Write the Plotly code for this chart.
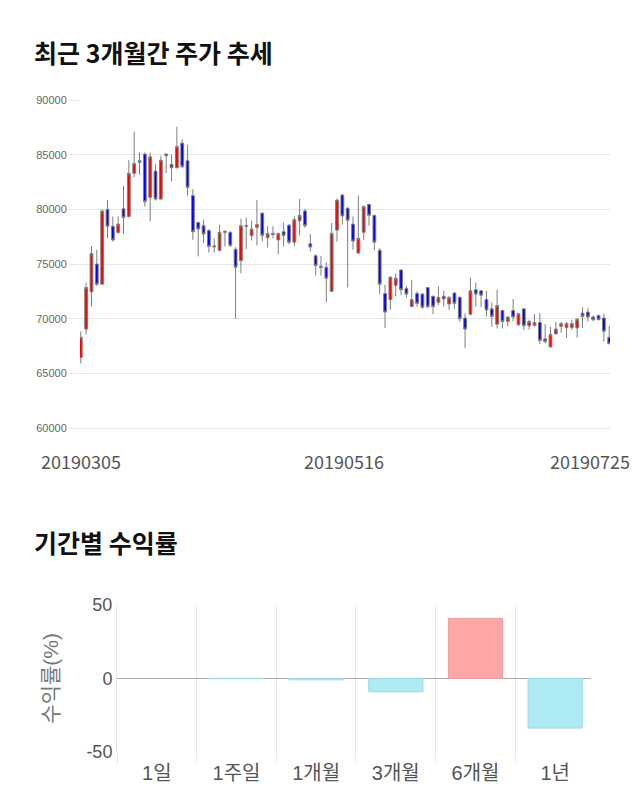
import plotly.graph_objects as go

# ---------------- data ----------------
opens = [66450, 69050, 72450, 75000, 73150, 80000, 78450, 77900, 80050, 79350,
         83300, 84450, 85050, 81100, 83500, 80950, 85050, 84100, 83800, 86050,
         84450, 81250, 78800, 78500, 78050, 76550, 76250, 78000, 77900, 76350,
         75300, 78500, 77600, 78350, 79650, 77400, 77800, 77200, 77950, 78550,
         77000, 78950, 79850, 76850, 75750, 74800, 74700, 72500, 78100, 81300,
         80100, 78650, 76000, 77900, 80450, 79450, 76250, 72300, 71750, 73050,
         74450, 72750, 71100, 72300, 72250, 72850, 72050, 71500, 72050, 71350,
         72350, 71950, 70050, 70400, 72650, 72550, 71750, 70900, 69500, 70750,
         69750, 70750, 69450, 70900, 69350, 69400, 69650, 68150, 67400, 68600,
         69300, 69200, 69200, 69150, 70500, 70600, 70150, 70300, 70050, 68300]
highs = [68850, 73300, 76650, 76300, 80000, 80850, 79350, 79350, 82150, 84500,
         87100, 85200, 85200, 85200, 84150, 84900, 85150, 85000, 87550, 86400,
         85900, 81850, 78850, 79050, 78200, 77350, 78600, 78050, 78000, 76550,
         79150, 79250, 78950, 80850, 79700, 78450, 78450, 77850, 78800, 78650,
         79350, 80950, 80050, 77750, 75900, 75750, 75150, 78750, 81000, 81400,
         80200, 79350, 81250, 80350, 80500, 79450, 76450, 73100, 73850, 74150,
         74500, 73000, 73550, 72500, 72300, 72900, 72100, 72950, 72550, 72050,
         72400, 72050, 70500, 73750, 73300, 72600, 72550, 71450, 72650, 70800,
         70200, 71800, 70450, 70900, 69900, 70450, 70500, 69500, 69250, 69700,
         69700, 69700, 69900, 70000, 71050, 70950, 70300, 70350, 70450, 69350]
lows = [65900, 68550, 71100, 73000, 73150, 77350, 77050, 77750, 77750, 79250,
        82950, 83150, 80250, 78900, 80800, 80850, 83300, 82550, 83800, 83800,
        81250, 77200, 75700, 76900, 76050, 76050, 76150, 76600, 76550, 70000,
        74150, 76350, 77150, 76700, 77050, 76500, 77350, 75900, 76600, 76800,
        76600, 77600, 78300, 76150, 73950, 73950, 71500, 72500, 77050, 78600,
        72850, 76300, 76000, 77200, 78500, 76250, 72250, 69150, 70800, 72050,
        72150, 71900, 71100, 71100, 70900, 70950, 70400, 71250, 71100, 70800,
        70900, 69700, 67300, 70300, 71100, 71050, 70200, 69250, 69100, 69100,
        69300, 69750, 69350, 68950, 69000, 69250, 67700, 67750, 67400, 68600,
        68700, 68250, 68950, 68250, 69150, 69750, 69750, 69900, 67900, 67700]
closes = [68300, 72850, 75950, 73150, 79850, 78450, 77200, 78650, 79250, 83300,
          84200, 84300, 80700, 84800, 80950, 84500, 84900, 83800, 85750, 83900,
          82000, 77950, 78200, 77750, 76600, 76650, 77900, 77900, 76700, 74700,
          78500, 78450, 78200, 78600, 77600, 77800, 77700, 77800, 77600, 77000,
          79050, 79450, 78500, 76550, 74850, 74700, 73700, 77800, 80850, 79400,
          79000, 77100, 77350, 80250, 79450, 77000, 73150, 70600, 73800, 73700,
          72650, 72250, 71750, 71400, 71050, 71100, 71100, 71950, 71800, 71950,
          71400, 70000, 69050, 72550, 72250, 72150, 70800, 70200, 71200, 69750,
          70150, 70150, 70450, 69350, 69750, 69650, 68000, 67900, 68550, 69050,
          69550, 69550, 69550, 69950, 70200, 70150, 69900, 69900, 68850, 67700]
candle_index = list(range(len(opens)))
date_labels = ["20190305", "20190516", "20190725"]
date_label_index = [0, 50, 99]
price_ticks = [60000, 65000, 70000, 75000, 80000, 85000, 90000]

periods = ["1일", "1주일", "1개월", "3개월", "6개월", "1년"]
returns = [0.0, -0.2, -1.0, -9.2, 40.9, -33.9]
return_ticks = [-50, 0, 50]
return_tick_text = ["-50", "0", "50"]

# ---------------- figure ----------------
W, H = 640, 810
fig = go.Figure()

fig.add_trace(go.Candlestick(
    x=candle_index, open=opens, high=highs, low=lows, close=closes,
    increasing=dict(fillcolor="#ff0000", line=dict(color="#7f7f7f", width=1)),
    decreasing=dict(fillcolor="#0000ff", line=dict(color="#7f7f7f", width=1)),
    whiskerwidth=0, showlegend=False, hoverinfo="skip",
    xaxis="x", yaxis="y",
))

pos_col, neg_col = "#ffa7a7", "#aeeaf3"
pos_line, neg_line = "#eb9c9c", "#9ed6df"
fig.add_trace(go.Bar(
    x=periods, y=returns,
    marker=dict(color=[pos_col if v > 0 else neg_col for v in returns],
                line=dict(color=[pos_line if v > 0 else neg_line for v in returns],
                          width=[1 if v != 0 else 0 for v in returns])),
    width=0.68, showlegend=False, hoverinfo="skip",
    xaxis="x2", yaxis="y2",
))

grid = "#e6e6e6"
fig.update_layout(
    width=W, height=H,
    margin=dict(l=0, r=0, t=0, b=0, pad=0, autoexpand=False),
    paper_bgcolor="white", plot_bgcolor="white",
    boxgap=0.26,
    font=dict(family="'Noto Sans CJK KR', 'Noto Sans', sans-serif", color="#555"),
    xaxis=dict(domain=[80 / W, 610 / W], range=[-0.15, len(opens) - 0.85],
               rangeslider=dict(visible=False), showgrid=False, zeroline=False,
               showticklabels=False, showline=True, linecolor=grid, linewidth=1,
               ticks="", fixedrange=True, automargin=False),
    yaxis=dict(domain=[1 - 428 / H, 1 - 100 / H], range=[60000, 90000],
               tickvals=price_ticks, ticktext=[str(v) for v in price_ticks],
               showgrid=True, gridcolor=grid, gridwidth=1, zeroline=False,
               ticks="outside", ticklen=10, tickcolor=grid, automargin=False,
               tickfont=dict(size=11, color="#666",
                             family="'Liberation Sans', Arial, sans-serif"),
               showline=False),
    xaxis2=dict(domain=[117 / W, 591 / W], anchor="y2", type="category",
                range=[-0.5, 5.45],
                tickson="boundaries", showgrid=True, gridcolor=grid,
                ticks="outside", ticklen=10, tickcolor=grid, automargin=False,
                ticklabelstandoff=7,
                tickfont=dict(size=20, color="#555",
                              family="'Liberation Sans', 'Noto Sans CJK KR', sans-serif"),
                showline=False, zeroline=False),
    yaxis2=dict(domain=[1 - 751.7 / H, 1 - 605 / H], anchor="x2", range=[-50, 50],
                tickvals=return_ticks, ticktext=return_tick_text,
                showgrid=True, gridcolor=grid, automargin=False,
                zeroline=True, zerolinecolor="#aaaaaa", zerolinewidth=1,
                tickfont=dict(size=18, color="#555",
                              family="'Liberation Sans', Arial, sans-serif"),
                title=dict(text="수익률(%)", standoff=22,
                           font=dict(size=21, color="#777",
                                     family="'Liberation Sans', 'Noto Sans CJK KR', sans-serif")),
                showline=True, linecolor=grid, mirror=False),
)

# titles
fig.add_annotation(text="<b>최근 3개월간 주가 추세</b>", xref="paper", yref="paper",
                   x=32 / W, y=1 - 52 / H, xanchor="left", yanchor="middle",
                   showarrow=False, font=dict(size=25, color="#111",
                                               family="'Noto Sans CJK KR', sans-serif"))
fig.add_annotation(text="<b>기간별 수익률</b>", xref="paper", yref="paper",
                   x=32 / W, y=1 - 542 / H, xanchor="left", yanchor="middle",
                   showarrow=False, font=dict(size=25, color="#111",
                                               family="'Noto Sans CJK KR', sans-serif"))

# date labels under the candle chart
label_shift = [0, -4, -19]
for lbl, idx, sh in zip(date_labels, date_label_index, label_shift):
    fig.add_annotation(text=lbl, xref="x", yref="paper", x=idx, y=1 - 461 / H,
                       xanchor="center", yanchor="middle", xshift=sh, showarrow=False,
                       font=dict(size=18, color="#555",
                                 family="'Noto Sans CJK KR', sans-serif"))

fig.write_html("out.html")
